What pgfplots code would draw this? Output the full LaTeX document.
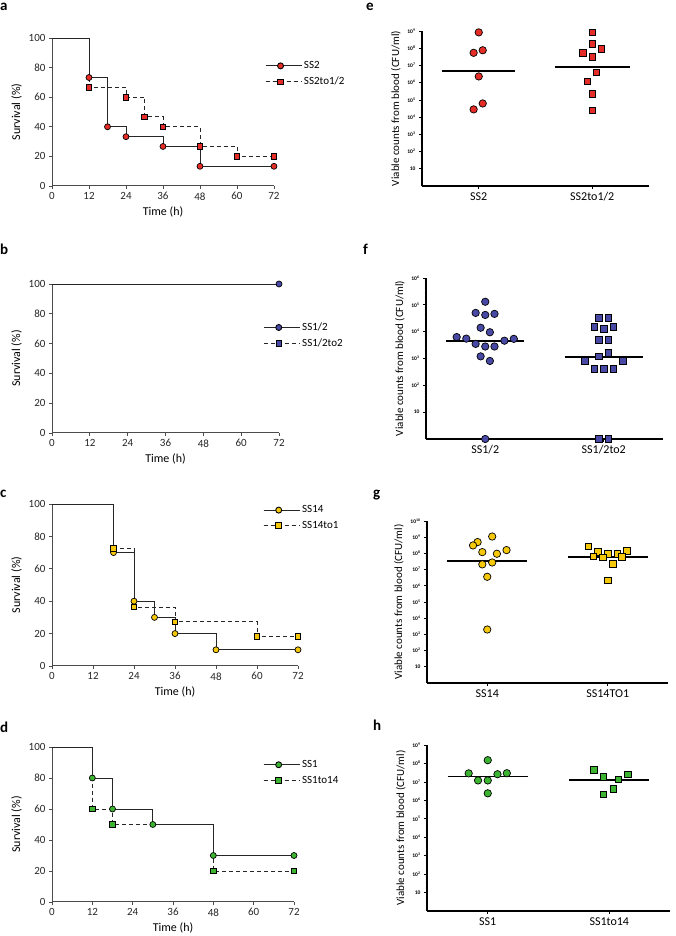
\documentclass[border=0pt]{standalone}
\usepackage{pgfplots}
\pgfplotsset{compat=1.18}
\usepackage{fontspec}
\setmainfont{Carlito}
\definecolor{cred}{RGB}{228,45,38}
\definecolor{cblue}{RGB}{72,72,165}
\definecolor{cyel}{RGB}{245,200,10}
\definecolor{cgrn}{RGB}{60,180,50}
\pgfplotsset{
  kmaxis/.style={
    scale only axis, anchor=south west, clip=false,
    xmin=0,xmax=72,ymin=0,ymax=100,
    xtick={0,12,24,36,48,60,72}, ytick={0,20,40,60,80,100},
    axis lines=left, axis line style={-,line width=1pt,black!70},
    tick align=outside, major tick length=3pt, tick style={line width=0.8pt,black!70},
    ticklabel style={font=\fontsize{11}{12}\selectfont, text=black!85},
    /pgf/number format/assume math mode=true,
    xlabel={Time (h)}, ylabel={Survival (\%)},
    label style={font=\fontsize{12}{13}\selectfont},
    legend style={draw=none, fill=none, anchor=west, font=\fontsize{11}{12}\selectfont, row sep=3pt, inner sep=0pt, cells={anchor=west}},
    legend image code/.code={\path (0pt,0pt) -- (36pt,0pt);\draw[mark repeat=2,mark phase=2,##1] plot coordinates {(0pt,0pt) (15pt,0pt) (30pt,0pt)};},
  },
  kmsteps/.style={const plot, black!85, line width=0.9pt, no marks, forget plot},
  kmdash/.style={dash pattern=on 4pt off 3pt},
  kmcirc/.style={only marks, mark=*, mark size=3pt, mark options={solid, draw=black, line width=0.7pt, fill=#1}, forget plot},
  kmsq/.style={only marks, mark=square*, mark size=2.8pt, mark options={solid, draw=black, line width=0.7pt, fill=#1}, forget plot},
  vcaxis/.style={
    scale only axis, anchor=south west, clip=false,
    ymin=1, xmin=-0.5, xmax=1.5, xtick={0,1},
    axis lines=left, axis line style={-,line width=1.2pt},
    tick align=outside, major tick length=3pt, minor tick length=1.5pt,
    tick style={line width=0.7pt, black},
    yticklabel style={font=\fontsize{5.5}{6}\selectfont\bfseries},
    xticklabel style={font=\fontsize{12}{13}\selectfont},
    ylabel={Viable counts from blood (CFU/ml)},
    ylabel style={font=\fontsize{11}{12}\selectfont},
  },
  vccirc/.style={only marks, mark=*, mark size=3.7pt, mark options={draw=black, line width=0.7pt, fill=#1}},
  vcsq/.style={only marks, mark=square*, mark size=3.3pt, mark options={draw=black, line width=0.7pt, fill=#1}},
  vcmed/.style={black, line width=1.8pt, no marks},
}
\begin{document}
\begin{tikzpicture}
\useasboundingbox (0,0) rectangle (675pt,936pt);
% ---------- a ----------
\begin{axis}[kmaxis, at={(52pt,750pt)}, width=222pt, height=148pt,
  legend style={at={(0.959,0.757)}}]
\addlegendimage{black!85, line width=0.9pt, mark=*, mark size=3pt, mark options={solid,draw=black,fill=cred}}
\addlegendentry{SS2}
\addlegendimage{black!85, line width=0.9pt, kmdash, mark=square*, mark size=2.8pt, mark options={solid,draw=black,fill=cred}}
\addlegendentry{SS2to1/2}
\addplot[kmsteps, kmdash] coordinates {(0,100) (12,66.7) (24,60) (30,46.7) (36,40) (48,26.7) (60,20) (72,20)};
\addplot[kmsteps] coordinates {(0,100) (12,73.3) (18,40) (24,33.3) (36,26.7) (48,13.3) (72,13.3)};
\addplot[kmsq=cred] coordinates {(12,66.7) (24,60) (30,46.7) (36,40) (48,26.7) (60,20) (72,20)};
\addplot[kmcirc=cred] coordinates {(12,73.3) (18,40) (24,33.3) (36,26.7) (48,13.3) (72,13.3)};
\end{axis}
% ---------- b ----------
\begin{axis}[kmaxis, at={(52pt,503pt)}, width=227pt, height=149pt,
  legend style={at={(0.93,0.654)}}]
\addlegendimage{black!85, line width=0.9pt, mark=*, mark size=3pt, mark options={solid,draw=black,fill=cblue}}
\addlegendentry{SS1/2}
\addlegendimage{black!85, line width=0.9pt, kmdash, mark=square*, mark size=2.8pt, mark options={solid,draw=black,fill=cblue}}
\addlegendentry{SS1/2to2}
\addplot[kmsteps, kmdash] coordinates {(0,100) (72,100)};
\addplot[kmsteps] coordinates {(0,100) (72,100)};
\addplot[kmcirc=cblue] coordinates {(72,100)};
\end{axis}
% ---------- c ----------
\begin{axis}[kmaxis, at={(52pt,270pt)}, width=246pt, height=162pt,
  legend style={at={(0.858,0.914)}}]
\addlegendimage{black!85, line width=0.9pt, mark=*, mark size=3pt, mark options={solid,draw=black,fill=cyel}}
\addlegendentry{SS14}
\addlegendimage{black!85, line width=0.9pt, kmdash, mark=square*, mark size=2.8pt, mark options={solid,draw=black,fill=cyel}}
\addlegendentry{SS14to1}
\addplot[kmsteps, kmdash] coordinates {(0,100) (18,72.7) (24,36.4) (36,27.3) (60,18.2) (72,18.2)};
\addplot[kmsteps] coordinates {(0,100) (18,70) (24,40) (30,30) (36,20) (48,10) (72,10)};
\addplot[kmcirc=cyel] coordinates {(18,70) (24,40) (30,30) (36,20) (48,10) (72,10)};
\addplot[kmsq=cyel] coordinates {(18,72.7) (24,36.4) (36,27.3) (60,18.2) (72,18.2)};
\end{axis}
% ---------- d ----------
\begin{axis}[kmaxis, at={(52pt,34pt)}, width=242pt, height=155pt,
  legend style={at={(0.872,0.835)}}]
\addlegendimage{black!85, line width=0.9pt, mark=*, mark size=3pt, mark options={solid,draw=black,fill=cgrn}}
\addlegendentry{SS1}
\addlegendimage{black!85, line width=0.9pt, kmdash, mark=square*, mark size=2.8pt, mark options={solid,draw=black,fill=cgrn}}
\addlegendentry{SS1to14}
\addplot[kmsteps, kmdash] coordinates {(0,100) (12,60) (18,50) (48,20) (72,20)};
\addplot[kmsteps] coordinates {(0,100) (12,80) (18,60) (30,50) (48,30) (72,30)};
\addplot[kmsq=cgrn] coordinates {(12,60) (18,50) (48,20) (72,20)};
\addplot[kmcirc=cgrn] coordinates {(12,80) (18,60) (30,50) (48,30) (72,30)};
\end{axis}
% ---------- e ----------
\begin{semilogyaxis}[vcaxis, at={(422pt,750pt)}, width=227pt, height=155pt, ymax=1e9,
  xticklabels={SS2,SS2to1/2},
  ytick={1e1,1e2,1e3,1e4,1e5,1e6,1e7,1e8,1e9},
  yticklabels={10,10\textsuperscript{2},10\textsuperscript{3},10\textsuperscript{4},10\textsuperscript{5},10\textsuperscript{6},10\textsuperscript{7},10\textsuperscript{8},10\textsuperscript{9}}]
\addplot[vcmed] coordinates {(-0.32,5.0e6) (0.32,5.0e6)};
\addplot[vcmed] coordinates {(0.67,7.9e6) (1.33,7.9e6)};
\addplot[vccirc=cred] coordinates {(0,8.3e8) (-0.045,5.4e7) (0.035,7.6e7) (0,2.3e6) (0.035,6.2e4) (-0.045,2.8e4)};
\addplot[vcsq=cred] coordinates {(1,8.3e8) (1,1.8e8) (1.08,9.5e7) (0.917,5.4e7) (1,3.1e7) (1.035,3.9e6) (0.956,1.2e6) (1,2.3e5) (1,2.5e4)};
\end{semilogyaxis}
% ---------- f ----------
\begin{semilogyaxis}[vcaxis, at={(426pt,497pt)}, width=237pt, height=161pt, ymax=1e6,
  xticklabels={SS1/2,SS1/2to2},
  ytick={1e1,1e2,1e3,1e4,1e5,1e6},
  yticklabels={10,10\textsuperscript{2},10\textsuperscript{3},10\textsuperscript{4},10\textsuperscript{5},10\textsuperscript{6}}]
\addplot[vcmed] coordinates {(-0.33,4.6e3) (0.33,4.6e3)};
\addplot[vcmed] coordinates {(0.67,1.17e3) (1.33,1.17e3)};
\addplot[vccirc=cblue] coordinates {(0,1.3e5) (-0.081,5.0e4) (0,4.2e4) (0.078,4.6e4) (-0.039,1.4e4) (0.039,9.5e3) (-0.241,6.3e3) (-0.16,5.5e3) (0.162,4.6e3) (0.241,5.4e3) (-0.081,3.5e3) (0,2.8e3) (0.078,2.8e3) (-0.039,1.2e3) (0.039,8.1e2) (0,1)};
\addplot[vcsq=cblue] coordinates {(0.961,3.2e4) (1.039,3.2e4) (0.922,1.55e4) (1,1.26e4) (1.081,1.48e4) (0.961,5.0e3) (1.039,5.0e3) (1.039,1.6e3) (0.961,1.2e3) (0.84,8.3e2) (1.16,8.3e2) (0.922,4.2e2) (1,4.2e2) (1.081,4.2e2) (0.961,1) (1.039,1)};
\end{semilogyaxis}
% ---------- g ----------
\begin{semilogyaxis}[vcaxis, at={(427pt,253pt)}, width=241pt, height=162pt, ymax=1e10,
  xticklabels={SS14,SS14TO1},
  ytick={1e1,1e2,1e3,1e4,1e5,1e6,1e7,1e8,1e9,1e10},
  yticklabels={10,10\textsuperscript{2},10\textsuperscript{3},10\textsuperscript{4},10\textsuperscript{5},10\textsuperscript{6},10\textsuperscript{7},10\textsuperscript{8},10\textsuperscript{9},10\textsuperscript{10}}]
\addplot[vcmed] coordinates {(-0.33,3.4e7) (0.33,3.4e7)};
\addplot[vcmed] coordinates {(0.67,5.9e7) (1.33,5.9e7)};
\addplot[vccirc=cyel] coordinates {(0.041,1.1e9) (-0.08,5.0e8) (-0.118,3.1e8) (-0.041,1.2e8) (0.08,9.5e7) (0.16,1.6e8) (-0.041,2.1e7) (0.041,2.75e7) (0,3.6e6) (0,2.0e3)};
\addplot[vcsq=cyel] coordinates {(0.84,2.7e8) (0.92,1.3e8) (1.157,1.45e8) (1,9.5e7) (1.08,9.5e7) (0.879,6.5e7) (0.959,5.6e7) (1.118,6.2e7) (1.041,2.3e7) (1,2.2e6)};
\end{semilogyaxis}
% ---------- h ----------
\begin{semilogyaxis}[vcaxis, at={(427pt,25pt)}, width=243pt, height=166pt, ymax=1e9,
  xticklabels={SS1,SS1to14},
  ytick={1e1,1e2,1e3,1e4,1e5,1e6,1e7,1e8,1e9},
  yticklabels={10,10\textsuperscript{2},10\textsuperscript{3},10\textsuperscript{4},10\textsuperscript{5},10\textsuperscript{6},10\textsuperscript{7},10\textsuperscript{8},10\textsuperscript{9}}]
\addplot[vcmed] coordinates {(-0.33,1.95e7) (0.33,1.95e7)};
\addplot[vcmed] coordinates {(0.67,1.3e7) (1.33,1.3e7)};
\addplot[vccirc=cgrn] coordinates {(0,1.5e8) (-0.157,2.9e7) (0.08,2.6e7) (0.157,2.95e7) (-0.08,1.2e7) (0,1.2e7) (0,2.4e6)};
\addplot[vcsq=cgrn] coordinates {(0.875,4.4e7) (0.952,1.9e7) (1.152,2.6e7) (1.075,1.4e7) (1.035,4.1e6) (0.952,2.1e6)};
\end{semilogyaxis}
% ---------- panel letters ----------
\begin{scope}[every node/.style={anchor=base west, inner sep=0pt, font=\bfseries\fontsize{15}{15}\selectfont}]
\node at (0pt,925pt) {a};
\node at (366pt,925pt) {e};
\node at (0pt,681pt) {b};
\node at (363pt,681pt) {f};
\node at (0pt,438pt) {c};
\node at (373pt,438pt) {g};
\node at (0pt,203pt) {d};
\node at (373pt,205pt) {h};
\end{scope}
\end{tikzpicture}
\end{document}
